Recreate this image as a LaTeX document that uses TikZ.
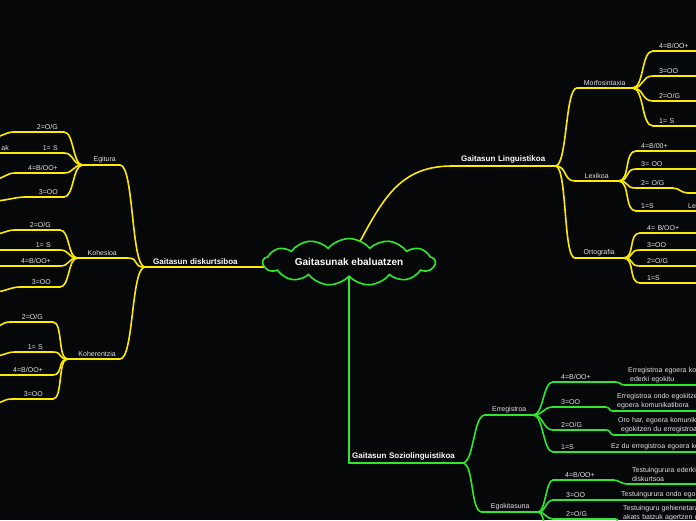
\documentclass[tikz,border=0pt]{standalone}
\usepackage{fontspec}
\setmainfont{Liberation Sans}
\usetikzlibrary{shapes.symbols}
\definecolor{bg}{HTML}{050709}
\definecolor{yel}{HTML}{FFEB00}
\definecolor{grn}{HTML}{2EE82E}
\definecolor{txt}{HTML}{E4E4E4}
\tikzset{
  yl/.style={draw=yel, line width=1.6pt, line cap=round},
  gl/.style={draw=grn, line width=1.6pt, line cap=round},
  lbl/.style={font=\fontsize{7}{9}\selectfont, text=txt, inner ysep=2pt},
  rkid/.style={lbl, anchor=south west, align=left},
  lkid/.style={lbl, anchor=south east, align=right},
  ttl/.style={font=\bfseries\fontsize{8}{10}\selectfont, text=white, inner ysep=2.5pt},
  rbow/.style={to path={.. controls +(#1,0) and +(-#1,0) .. (\tikztotarget)}},
  rbow/.default=12,
  lbow/.style={to path={.. controls +(-#1,0) and +(#1,0) .. (\tikztotarget)}},
  lbow/.default=12,
}

\begin{document}
\begin{tikzpicture}[x=1pt, y=-1pt]
\useasboundingbox (0,0) rectangle (696,520);
\fill[bg] (0,0) rectangle (696,520);
\clip (0,0) rectangle (696,520);
\coordinate (hub) at (349,262);
\coordinate (rim) at (710,0);

% ---------------- Gaitasun Linguistikoa ----------------
\node[ttl, anchor=south west, align=left, text width=85pt, inner xsep=9pt] (ling) at (452,166) {Gaitasun Linguistikoa};
\node[lbl, anchor=south west, align=center, text width=45pt, inner xsep=5pt] (morf) at (577,88) {Morfosintaxia};
\node[lbl, anchor=south west, align=center, text width=33pt, inner xsep=5pt] (lex) at (575,181) {Lexikoa};
\node[lbl, anchor=south west, align=center, text width=38pt, inner xsep=5pt] (orto) at (575,258) {Ortografia};

\node[rkid, text width=40pt, inner xsep=6pt] (m4) at (653,51) {4=B/OO+};
\node[rkid, text width=40pt, inner xsep=6pt] (m3) at (653,76) {3=OO};
\node[rkid, text width=40pt, inner xsep=6pt] (m2) at (653,101) {2=O/G};
\node[rkid, text width=40pt, inner xsep=6pt] (m1) at (653,126) {1= S};

\node[rkid, text width=60pt, inner xsep=5pt] (l4) at (636,151) {4=B/00+};
\node[rkid, text width=60pt, inner xsep=5pt] (l3) at (636,169) {3= OO};
\node[rkid, text width=26pt, inner xsep=5pt] (l2) at (636,188) {2= O/G};
\node[rkid, text width=38pt, inner xsep=5pt] (l1) at (636,211) {1=S};
\node[rkid, text width=20pt, inner xsep=4pt] (lt1) at (684,211) {Le};
\coordinate (l2c) at (688,193);

\node[rkid, text width=60pt, inner xsep=7pt] (o4) at (640,233) {4= B/OO+};
\node[rkid, text width=60pt, inner xsep=7pt] (o3) at (640,250) {3=OO};
\node[rkid, text width=60pt, inner xsep=7pt] (o2) at (640,266) {2=O/G};
\node[rkid, text width=60pt, inner xsep=7pt] (o1) at (640,283) {1=S};

% ---------------- Gaitasun diskurtsiboa ----------------
\node[ttl, anchor=south west, align=left, text width=100pt, inner xsep=8pt] (dis) at (145,267) {Gaitasun diskurtsiboa};
\node[lbl, anchor=south east, align=right, text width=29pt, inner xsep=4pt] (egit) at (120,165) {Egitura};
\node[lbl, anchor=south east, align=center, text width=39pt, inner xsep=5pt] (koh) at (127,258) {Kohesioa};
\node[lbl, anchor=south east, align=right, text width=44pt, inner xsep=4pt] (koher) at (120,359) {Koherentzia};

\node[lkid, text width=38pt, inner xsep=6pt] (g2) at (64,132) {2=O/G};
\node[lkid, text width=40pt, inner xsep=6pt] (g1) at (64,153) {1= S};
\node[lkid, text width=37pt, inner xsep=6pt] (g4) at (64,173) {4=B/OO+};
\node[lkid, text width=27pt, inner xsep=6pt] (g3) at (64,197) {3=OO};
\node[lkid, text width=20pt, inner xsep=3pt] (ak) at (12,153) {ak};
\coordinate (g2c) at (-6,137);
\coordinate (g4c) at (-5,179);
\coordinate (g3c) at (-5,201);

\node[lkid, text width=27pt, inner xsep=9pt] (h2) at (60,230) {2=O/G};
\node[lkid, text width=52pt, inner xsep=9pt] (h1) at (60,250) {1= S};
\node[lkid, text width=52pt, inner xsep=9pt] (h4) at (60,266) {4=B/OO+};
\node[lkid, text width=22pt, inner xsep=9pt] (h3) at (60,287) {3=OO};
\coordinate (h2c) at (-5,234);
\coordinate (h3c) at (-5,292);

\node[lkid, text width=23pt, inner xsep=10pt] (r2) at (53,322) {2=O/G};
\node[lkid, text width=18pt, inner xsep=10pt] (r1) at (53,352) {1= S};
\node[lkid, text width=43pt, inner xsep=10pt] (r4) at (53,375) {4=B/OO+};
\node[lkid, text width=21pt, inner xsep=10pt] (r3) at (53,399) {3=OO};
\coordinate (r2c) at (-8,328);
\coordinate (r1c) at (-5,356);
\coordinate (r3c) at (-5,403);

% ---------------- Gaitasun Soziolinguistikoa ----------------
\node[ttl, anchor=south west, align=left, text width=107pt, inner xsep=3pt] (sozio) at (349,463) {Gaitasun Soziolinguistikoa};
\node[lbl, anchor=south west, align=center, text width=38pt, inner xsep=5pt] (erre) at (485,415) {Erregistroa};
\node[lbl, anchor=south west, align=center, text width=46pt, inner xsep=5pt] (egok) at (482,512) {Egokitasuna};

\node[rkid, text width=46pt, inner xsep=8pt] (e4) at (553,382) {4=B/OO+};
\node[rkid, text width=36pt, inner xsep=8pt] (e3) at (553,407) {3=OO};
\node[rkid, text width=37pt, inner xsep=8pt] (e2) at (553,430) {2=O/G};
\node[rkid, text width=38pt, inner xsep=8pt] (e1) at (553,452) {1=S};
\node[rkid, text width=90pt, inner xsep=3pt] (e4t) at (625,385) {Erregistroa egoera ko\\\hspace*{2pt}ederki egokitu};
\node[rkid, text width=90pt, inner xsep=4pt] (e3t) at (613,411) {Erregistroa ondo egokitzen\\egoera komunikatibora};
\node[rkid, text width=90pt, inner xsep=4pt] (e2t) at (614,435) {Oro har, egoera komunik\\\hspace*{3pt}egokitzen du erregistroa};
\node[rkid, text width=90pt, inner xsep=4pt] (e1t) at (607,452) {Ez du erregistroa egoera ko};

\node[rkid, text width=36pt, inner xsep=12pt] (k4) at (553,480) {4=B/OO+};
\node[rkid, text width=38pt, inner xsep=13pt] (k3) at (553,500) {3=OO};
\node[rkid, text width=36pt, inner xsep=13pt] (k2) at (553,519) {2=O/G};
\node[rkid, text width=90pt, inner xsep=5pt] (k4t) at (627,484) {Testuingurura ederki\\diskurtsoa};
\node[rkid, text width=90pt, inner xsep=4pt] (k3t) at (617,500) {Testuingurura ondo egoki};
\node[rkid, text width=90pt, inner xsep=4pt] (k2t) at (619,523) {Testuinguru gehienetara\\akats batzuk agertzen d};
\coordinate (k1) at (553,548);

% underlines
\foreach \n in {ling,morf,lex,orto,m4,m3,m2,m1,l4,l3,l2,l1,lt1,o4,o3,o2,o1,
                dis,egit,koh,koher,g2,g1,g4,g3,ak,h2,h1,h4,h3,r2,r1,r4,r3}
  \draw[yl] (\n.south west) -- (\n.south east);
\foreach \n in {sozio,erre,egok,e4,e3,e2,e1,e4t,e3t,e2t,e1t,k4,k3,k2,k4t,k3t,k2t}
  \draw[gl] (\n.south west) -- (\n.south east);

% yellow connectors
\draw[yl] (hub) .. controls +(31,-57) and +(-57,0) .. (ling.south west);
\draw[yl] (dis.south east) -- (dis.south east -| hub);
\foreach \n in {morf,lex,orto}
  \draw[yl] (ling.south east) to[rbow] (\n.south west);
\foreach \n in {m4,m3,m2,m1}
  \draw[yl] (morf.south east) to[rbow] (\n.south west);
\foreach \n in {l4,l3,l2,l1}
  \draw[yl] (lex.south east) to[rbow] (\n.south west);
\foreach \n in {o4,o3,o2,o1}
  \draw[yl] (orto.south east) to[rbow] (\n.south west);
\draw[yl] (l2.south east) to[rbow=7] (l2c) -- (l2c -| rim);
\draw[yl] (l1.south east) -- (lt1.south west);

\foreach \n in {egit,koh,koher}
  \draw[yl] (dis.south west) to[lbow=14] (\n.south east);
\foreach \n in {g2,g1,g4,g3}
  \draw[yl] (egit.south west) to[lbow=10] (\n.south east);
\foreach \n in {h2,h1,h4,h3}
  \draw[yl] (koh.south west) to[lbow=10] (\n.south east);
\foreach \n in {r2,r1,r4,r3}
  \draw[yl] (koher.south west) to[lbow=10] (\n.south east);
\draw[yl] (g2.south west) to[lbow=8] (g2c);
\draw[yl] (g1.south west) -- (ak.south east);
\draw[yl] (g4.south west) to[lbow=8] (g4c);
\draw[yl] (g3.south west) to[lbow=8] (g3c);
\draw[yl] (h2.south west) to[lbow=8] (h2c);
\draw[yl] (h3.south west) to[lbow=8] (h3c);
\draw[yl] (r2.south west) to[lbow=8] (r2c);
\draw[yl] (r1.south west) to[lbow=8] (r1c);
\draw[yl] (r3.south west) to[lbow=8] (r3c);

% green connectors
\draw[gl] (hub) -- (sozio.south west);
\foreach \n in {erre,egok}
  \draw[gl] (sozio.south east) to[rbow] (\n.south west);
\foreach \n in {e4,e3,e2,e1}
  \draw[gl] (erre.south east) to[rbow=10] (\n.south west);
\foreach \n in {k4,k3,k2}
  \draw[gl] (egok.south east) to[rbow=7] (\n.south west);
\draw[gl] (egok.south east) to[rbow=7] (k1);
\foreach \n in {e4,e3,e2,e1,k4,k3,k2}
  \draw[gl] (\n.south east) to[rbow=5] (\n t.south west);

% the central cloud
\node[cloud, cloud puffs=13, cloud puff arc=100, aspect=5, draw=grn, line width=1.6pt,
      fill=bg, minimum width=172pt, minimum height=32pt, inner sep=0pt,
      font=\bfseries\fontsize{10}{12}\selectfont, text=white] (core) at (hub) {Gaitasunak ebaluatzen};
\end{tikzpicture}
\end{document}
